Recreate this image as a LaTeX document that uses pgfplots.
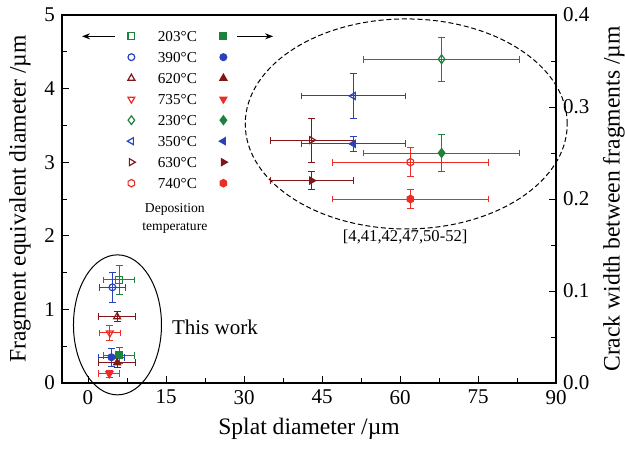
\documentclass[border=0pt]{standalone}
\usepackage{fontspec}
\setmainfont{Liberation Serif}
\usepackage{pgfplots}
\pgfplotsset{compat=1.18}
\usetikzlibrary{arrows.meta,calc}

\definecolor{cgreen}{RGB}{30,130,60}
\definecolor{cblue}{RGB}{42,65,188}
\definecolor{cdred}{RGB}{130,22,22}
\definecolor{cred}{RGB}{235,45,38}

% hexagon marks for the 740 C series
\pgfdeclareplotmark{hexagon}{%
  \pgfpathmoveto{\pgfpointpolar{90}{1.1\pgfplotmarksize}}%
  \pgfpathlineto{\pgfpointpolar{150}{1.1\pgfplotmarksize}}%
  \pgfpathlineto{\pgfpointpolar{210}{1.1\pgfplotmarksize}}%
  \pgfpathlineto{\pgfpointpolar{270}{1.1\pgfplotmarksize}}%
  \pgfpathlineto{\pgfpointpolar{330}{1.1\pgfplotmarksize}}%
  \pgfpathlineto{\pgfpointpolar{30}{1.1\pgfplotmarksize}}%
  \pgfpathclose\pgfusepathqstroke}
\pgfdeclareplotmark{hexagon*}{%
  \pgfpathmoveto{\pgfpointpolar{90}{1.1\pgfplotmarksize}}%
  \pgfpathlineto{\pgfpointpolar{150}{1.1\pgfplotmarksize}}%
  \pgfpathlineto{\pgfpointpolar{210}{1.1\pgfplotmarksize}}%
  \pgfpathlineto{\pgfpointpolar{270}{1.1\pgfplotmarksize}}%
  \pgfpathlineto{\pgfpointpolar{330}{1.1\pgfplotmarksize}}%
  \pgfpathlineto{\pgfpointpolar{30}{1.1\pgfplotmarksize}}%
  \pgfpathclose\pgfusepathqfillstroke}

\pgfplotsset{
  base/.style={
    width=247pt, height=184pt, scale only axis,
    xmin=-5, xmax=90,
    tick align=inside,
    major tick length=3.5pt, minor tick length=2.5pt,
    axis line style={line width=0.6pt},
    every tick/.style={line width=0.5pt, black},
    tick label style={font=\fontsize{10.5}{12}\selectfont},
    label style={font=\fontsize{11.8}{13}\selectfont},
    /pgf/number format/assume math mode=true,
  },
  ebar/.style={
    only marks, line width=0.6pt, mark size=1.7pt,
    error bars/x dir=both, error bars/x explicit,
    error bars/y dir=both, error bars/y explicit,
    error bars/error bar style={line width=0.5pt},
    error bars/error mark options={rotate=90, mark size=1.7pt, line width=0.5pt},
  },
  lg/.style={only marks, line width=0.6pt, mark size=1.7pt},
}

\begin{document}
\begin{tikzpicture}
\begin{axis}[base, name=ax,
  ymin=0, ymax=5,
  ytick={0,1,2,3,4,5}, minor y tick num=1,
  xtick={0,15,30,45,60,75,90}, minor x tick num=1,
  xtick pos=bottom, ytick pos=left,
  xlabel={Splat diameter /µm},
  ylabel={Fragment equivalent diameter /µm},
  clip=false,
  legend columns=2,
  legend image code/.code={%
    \path[draw=none, fill=none] (0pt,0pt) (20pt,0pt);
    \draw[#1] plot coordinates {(10pt,0pt)};},
  legend style={draw=none, fill=none, inner sep=0pt,
    at={(axis cs:4.42,4.84)}, anchor=north west,
    font=\fontsize{7.6}{9}\selectfont,
    column sep=0pt,
    nodes={inner xsep=0pt, inner ysep=1pt, text height=6pt, text depth=1pt,
      text width=26pt, align=center},
    row sep=1.5pt},
]
  % legend: open marker (left axis), label, filled marker (right axis)
  \addlegendimage{lg, cgreen, mark=square}\addlegendentry{203°C}
  \addlegendimage{lg, cgreen, mark=square*}\addlegendentry{}
  \addlegendimage{lg, cblue, mark=o}\addlegendentry{390°C}
  \addlegendimage{lg, cblue, mark=*}\addlegendentry{}
  \addlegendimage{lg, cdred, mark=triangle, mark size=2pt}\addlegendentry{620°C}
  \addlegendimage{lg, cdred, mark=triangle*, mark size=2pt}\addlegendentry{}
  \addlegendimage{lg, cred, mark=triangle, mark size=2pt, mark options={rotate=180}}\addlegendentry{735°C}
  \addlegendimage{lg, cred, mark=triangle*, mark size=2pt, mark options={rotate=180}}\addlegendentry{}
  \addlegendimage{lg, cgreen, mark=diamond, mark size=2.2pt}\addlegendentry{230°C}
  \addlegendimage{lg, cgreen, mark=diamond*, mark size=2.2pt}\addlegendentry{}
  \addlegendimage{lg, cblue, mark=triangle, mark size=2pt, mark options={rotate=90}}\addlegendentry{350°C}
  \addlegendimage{lg, cblue, mark=triangle*, mark size=2pt, mark options={rotate=90}}\addlegendentry{}
  \addlegendimage{lg, cdred, mark=triangle, mark size=2pt, mark options={rotate=-90}}\addlegendentry{630°C}
  \addlegendimage{lg, cdred, mark=triangle*, mark size=2pt, mark options={rotate=-90}}\addlegendentry{}
  \addlegendimage{lg, cred, mark=hexagon}\addlegendentry{740°C}
  \addlegendimage{lg, cred, mark=hexagon*}\addlegendentry{}

  % fragment equivalent diameter (open markers)
  \addplot[ebar, cgreen, mark=square, forget plot] coordinates {(6.0,1.40) +- (3.0,0.20)};
  \addplot[ebar, cblue, mark=o, forget plot] coordinates {(4.7,1.30) +- (2.5,0.20)};
  \addplot[ebar, cdred, mark=triangle, mark size=2pt, forget plot] coordinates {(5.6,0.90) +- (3.6,0.07)};
  \addplot[ebar, cred, mark=triangle, mark size=2pt, mark options={rotate=180}, forget plot] coordinates {(4.2,0.68) +- (2.0,0.10)};
  \addplot[ebar, cgreen, mark=diamond, mark size=2.2pt, forget plot] coordinates {(68,4.40) +- (15,0.30)};
  \addplot[ebar, cblue, mark=triangle, mark size=2pt, mark options={rotate=90}, forget plot] coordinates {(51,3.90) +- (10,0.30)};
  \addplot[ebar, cdred, mark=triangle, mark size=2pt, mark options={rotate=-90}, forget plot] coordinates {(43,3.30) +- (8,0.30)};
  \addplot[ebar, cred, mark=hexagon, forget plot] coordinates {(62,3.00) +- (15,0.20)};

  \draw[line width=0.5pt] (axis cs:5.67,0.79) ellipse [x radius=22pt, y radius=35pt];
  \draw[line width=0.5pt, dash pattern=on 2.5pt off 1.4pt] (axis cs:61.2,3.52) ellipse [x radius=80.5pt, y radius=52.5pt];
  \node[anchor=west, font=\fontsize{10.5}{12}\selectfont] at (axis cs:14.8,0.75) {This work};
  \node[font=\fontsize{8.3}{10}\selectfont] at (axis cs:61,1.98) {[4,41,42,47,50-52]};
  \node[align=center, font=\fontsize{6.8}{9}\selectfont] at (axis cs:16.7,2.24) {Deposition\\temperature};
  \draw[line width=0.5pt, -{Stealth[length=4pt, width=3pt]}] (axis cs:5.2,4.71) -- (axis cs:-1.15,4.71);
  \draw[line width=0.5pt, -{Stealth[length=4pt, width=3pt]}] (axis cs:28.65,4.71) -- (axis cs:35.6,4.71);
\end{axis}

\begin{axis}[base,
  ymin=0, ymax=0.4,
  axis y line*=right, axis x line=none,
  ytick={0,0.1,0.2,0.3,0.4}, minor y tick num=1,
  yticklabel style={/pgf/number format/.cd, fixed, fixed zerofill, precision=1},
  ylabel={Crack width between fragments /µm},
]
  % crack width between fragments (filled markers)
  \addplot[ebar, cgreen, mark=square*] coordinates {(6.0,0.030) +- (3.0,0.009)};
  \addplot[ebar, cblue, mark=*] coordinates {(4.5,0.028) +- (2.5,0.010)};
  \addplot[ebar, cdred, mark=triangle*, mark size=2pt] coordinates {(5.6,0.022) +- (3.6,0.005)};
  \addplot[ebar, cred, mark=triangle*, mark size=2pt, mark options={rotate=180}] coordinates {(4.1,0.010) +- (2.0,0.0035)};
  \addplot[ebar, cgreen, mark=diamond*, mark size=2.2pt] coordinates {(68,0.25) +- (15,0.02)};
  \addplot[ebar, cblue, mark=triangle*, mark size=2pt, mark options={rotate=90}] coordinates {(51,0.26) +- (10,0.008)};
  \addplot[ebar, cdred, mark=triangle*, mark size=2pt, mark options={rotate=-90}] coordinates {(43,0.22) +- (8,0.01)};
  \addplot[ebar, cred, mark=hexagon*] coordinates {(62,0.20) +- (15,0.01)};
\end{axis}
\pgfresetboundingbox
\path[use as bounding box] ($(ax.south west)+(-31pt,-33.5pt)$) rectangle ($(ax.north east)+(34.5pt,7.5pt)$);
\end{tikzpicture}
\end{document}
